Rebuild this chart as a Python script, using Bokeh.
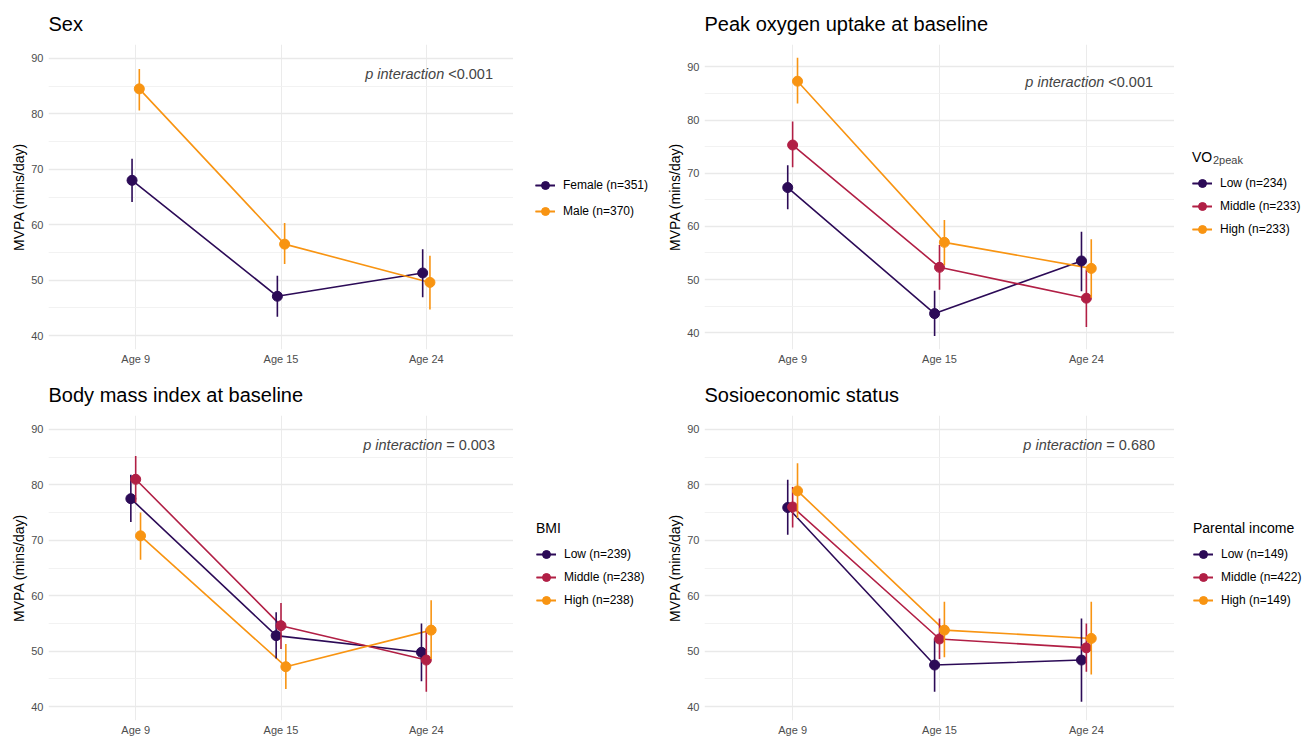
from bokeh.plotting import figure
from bokeh.models import ColumnDataSource, FixedTicker, Range1d, Legend, LegendItem, Label
from bokeh.layouts import row, column
from bokeh.embed import file_html
from bokeh.resources import INLINE

FONT = "Liberation Sans"

ages = ["Age 9", "Age 15", "Age 24"]
yticks = [40, 50, 60, 70, 80, 90]
yminor = [35, 45, 55, 65, 75, 85, 95]

sex_labels = ["Female (n=351)", "Male (n=370)"]
sex_mean = [[68.0, 47.1, 51.3], [84.5, 56.5, 49.6]]
sex_lo = [[64.1, 43.4, 46.9], [80.6, 52.9, 44.7]]
sex_hi = [[71.9, 50.8, 55.6], [88.1, 60.3, 54.4]]

vo2_labels = ["Low (n=234)", "Middle (n=233)", "High (n=233)"]
vo2_mean = [[67.3, 43.6, 53.5], [75.3, 52.3, 46.5], [87.3, 57.0, 52.1]]
vo2_lo = [[63.2, 39.4, 47.8], [71.1, 48.1, 41.1], [83.1, 52.7, 46.6]]
vo2_hi = [[71.5, 47.9, 59.0], [79.7, 56.5, 51.9], [91.7, 61.2, 57.6]]

bmi_labels = ["Low (n=239)", "Middle (n=238)", "High (n=238)"]
bmi_mean = [[77.5, 52.8, 49.8], [81.0, 54.6, 48.4], [70.8, 47.2, 53.8]]
bmi_lo = [[73.3, 48.7, 44.6], [76.8, 50.4, 42.7], [66.5, 43.2, 48.6]]
bmi_hi = [[81.8, 57.0, 55.0], [85.2, 58.7, 54.1], [75.0, 51.3, 59.2]]

ses_labels = ["Low (n=149)", "Middle (n=422)", "High (n=149)"]
ses_mean = [[75.9, 47.5, 48.4], [76.0, 52.2, 50.6], [78.9, 53.8, 52.3]]
ses_lo = [[71.0, 42.7, 40.9], [72.3, 48.6, 46.3], [74.0, 48.9, 45.8]]
ses_hi = [[80.9, 52.3, 55.9], [79.6, 55.9, 55.0], [83.9, 58.9, 58.9]]

p_values = ["<0.001", "<0.001", "= 0.003", "= 0.680"]

C_LOW = "#2C0B57"
C_MID = "#B11F45"
C_HIGH = "#F89412"


def make_plot(title, labels, means, los, his, colors, pval, yr, fw, fh, left, top, bottom):
    p = figure(frame_width=fw, frame_height=fh,
               x_range=Range1d(0.4, 3.6), y_range=Range1d(*yr),
               output_backend="svg", toolbar_location=None,
               min_border_left=left, min_border_right=0,
               min_border_top=top, min_border_bottom=bottom,
               title=title)
    p.outline_line_color = None
    p.background_fill_color = "white"
    p.border_fill_color = "white"

    p.title.text_font = FONT
    p.title.text_font_size = "20px"
    p.title.text_font_style = "normal"
    p.title.text_color = "black"
    p.title.standoff = 20
    p.title.align = "left"

    p.xaxis.ticker = FixedTicker(ticks=[1, 2, 3])
    p.xaxis.major_label_overrides = {i + 1: a for i, a in enumerate(ages)}
    p.yaxis.ticker = FixedTicker(ticks=yticks, minor_ticks=yminor)
    for ax in (p.xaxis, p.yaxis):
        ax.axis_line_color = None
        ax.major_tick_line_color = None
        ax.minor_tick_line_color = None
        ax.major_tick_out = 0
        ax.major_tick_in = 0
        ax.minor_tick_out = 0
        ax.minor_tick_in = 0
        ax.major_label_text_font = FONT
        ax.major_label_text_font_size = "11px"
        ax.major_label_text_color = "#4D4D4D"
    p.xaxis.major_label_standoff = 3
    p.yaxis.major_label_standoff = 5
    p.yaxis.axis_label = "MVPA (mins/day)"
    p.yaxis.axis_label_text_font = FONT
    p.yaxis.axis_label_text_font_size = "14px"
    p.yaxis.axis_label_text_font_style = "normal"
    p.yaxis.axis_label_text_color = "black"
    p.yaxis.axis_label_standoff = 1

    p.xgrid.grid_line_color = "#EBEBEB"
    p.xgrid.grid_line_width = 1
    p.ygrid.grid_line_color = "#E9E9E9"
    p.ygrid.grid_line_width = 1.3
    p.ygrid.minor_grid_line_color = "#F1F1F1"
    p.ygrid.minor_grid_line_width = 0.9

    n = len(labels)
    dodge = 0.1 / n
    sources = []
    for k in range(n):
        off = (k - (n - 1) / 2) * dodge
        xs = [i + 1 + off for i in range(len(ages))]
        sources.append(ColumnDataSource(dict(x=xs, y=means[k], lo=los[k], hi=his[k])))
    for k in range(n):
        p.line("x", "y", source=sources[k], line_color=colors[k], line_width=1.6)
    for k in range(n):
        p.segment(x0="x", y0="lo", x1="x", y1="hi", source=sources[k],
                  line_color=colors[k], line_width=1.6)
        p.scatter("x", "y", source=sources[k], size=10, marker="circle",
                  fill_color=colors[k], line_color=colors[k], line_width=1)

    if pval.startswith("<"):
        o1, o2 = 15.0, 19.0
    else:
        o1, o2 = 13.0, 17.0
    p.add_layout(Label(x=3.02, y=87.2, text="p interaction", text_font=FONT,
                       text_font_size="14.5px", text_font_style="italic",
                       text_align="right", text_baseline="middle", x_offset=o1))
    p.add_layout(Label(x=3.02, y=87.2, text=pval, text_font=FONT,
                       text_font_size="14.5px", text_align="left",
                       text_baseline="middle", x_offset=o2))
    return p


def make_legend(labels, means, colors, width, height, legend_title, leg_x, leg_y, leg_spacing):
    # legend-only panel; its hidden copies of the series lie outside its (empty) ranges
    q = figure(width=width, height=height, x_range=Range1d(-2, -1), y_range=Range1d(-2, -1),
               x_axis_type=None, y_axis_type=None, output_backend="svg",
               toolbar_location=None, min_border=0)
    q.outline_line_color = None
    q.background_fill_color = "white"
    q.border_fill_color = "white"
    q.grid.visible = False
    items = []
    for k, lab in enumerate(labels):
        xs = [i + 1 for i in range(len(ages))]
        lr = q.line(x=xs, y=means[k], line_color=colors[k], line_width=1.6)
        vr = q.vspan(x=xs, line_color=colors[k], line_width=1.6)
        pr = q.scatter(x=xs, y=means[k], marker="circle", fill_color=colors[k],
                       line_color=colors[k], line_width=1)
        items.append(LegendItem(label=lab, renderers=[lr, vr, pr]))
    legend = Legend(items=items, location=(leg_x, leg_y),
                    glyph_width=20, glyph_height=20, label_height=20,
                    spacing=leg_spacing, padding=0, margin=0, label_standoff=8,
                    label_text_font=FONT, label_text_font_size="12px",
                    label_text_color="black",
                    border_line_color=None, background_fill_alpha=0)
    if legend_title:
        legend.title = legend_title
        legend.title_text_font = FONT
        legend.title_text_font_size = "14px"
        legend.title_text_font_style = "normal"
        legend.title_text_color = "black"
        legend.title_standoff = 8
    q.add_layout(legend, "center")
    return q


two = [C_LOW, C_HIGH]
three = [C_LOW, C_MID, C_HIGH]

p1 = make_plot("Sex", sex_labels, sex_mean, sex_lo, sex_hi, two, p_values[0],
               (37.5, 92.5), 465, 305, 48, 43, 22)
l1 = make_legend(sex_labels, sex_mean, two, 142, 370, None, 22, 127.5, 6)

p2 = make_plot("Peak oxygen uptake at baseline", vo2_labels, vo2_mean, vo2_lo, vo2_hi,
               three, p_values[1], (36.85, 94.2), 470, 305, 49, 43, 22)
l2 = make_legend(vo2_labels, vo2_mean, three, 136, 370, "VO", 18, 108.9, 3)
l2.add_layout(Label(x=18 + 20.5, y=188.5, x_units="screen", y_units="screen",
                    text="2peak", text_font=FONT, text_font_size="11px",
                    text_baseline="alphabetic", text_align="left"))

p3 = make_plot("Body mass index at baseline", bmi_labels, bmi_mean, bmi_lo, bmi_hi,
               three, p_values[2], (37.5, 92.5), 465, 305, 48, 43, 20)
l3 = make_legend(bmi_labels, bmi_mean, three, 142, 368, "BMI", 23, 109.5, 3)

p4 = make_plot("Sosioeconomic status", ses_labels, ses_mean, ses_lo, ses_hi,
               three, p_values[3], (37.5, 92.5), 470, 305, 49, 43, 20)
l4 = make_legend(ses_labels, ses_mean, three, 136, 368, "Parental income", 19, 109.2, 3)

layout = column(row(p1, l1, p2, l2), row(p3, l3, p4, l4))
open("out.html", "w").write(file_html(layout, INLINE))
